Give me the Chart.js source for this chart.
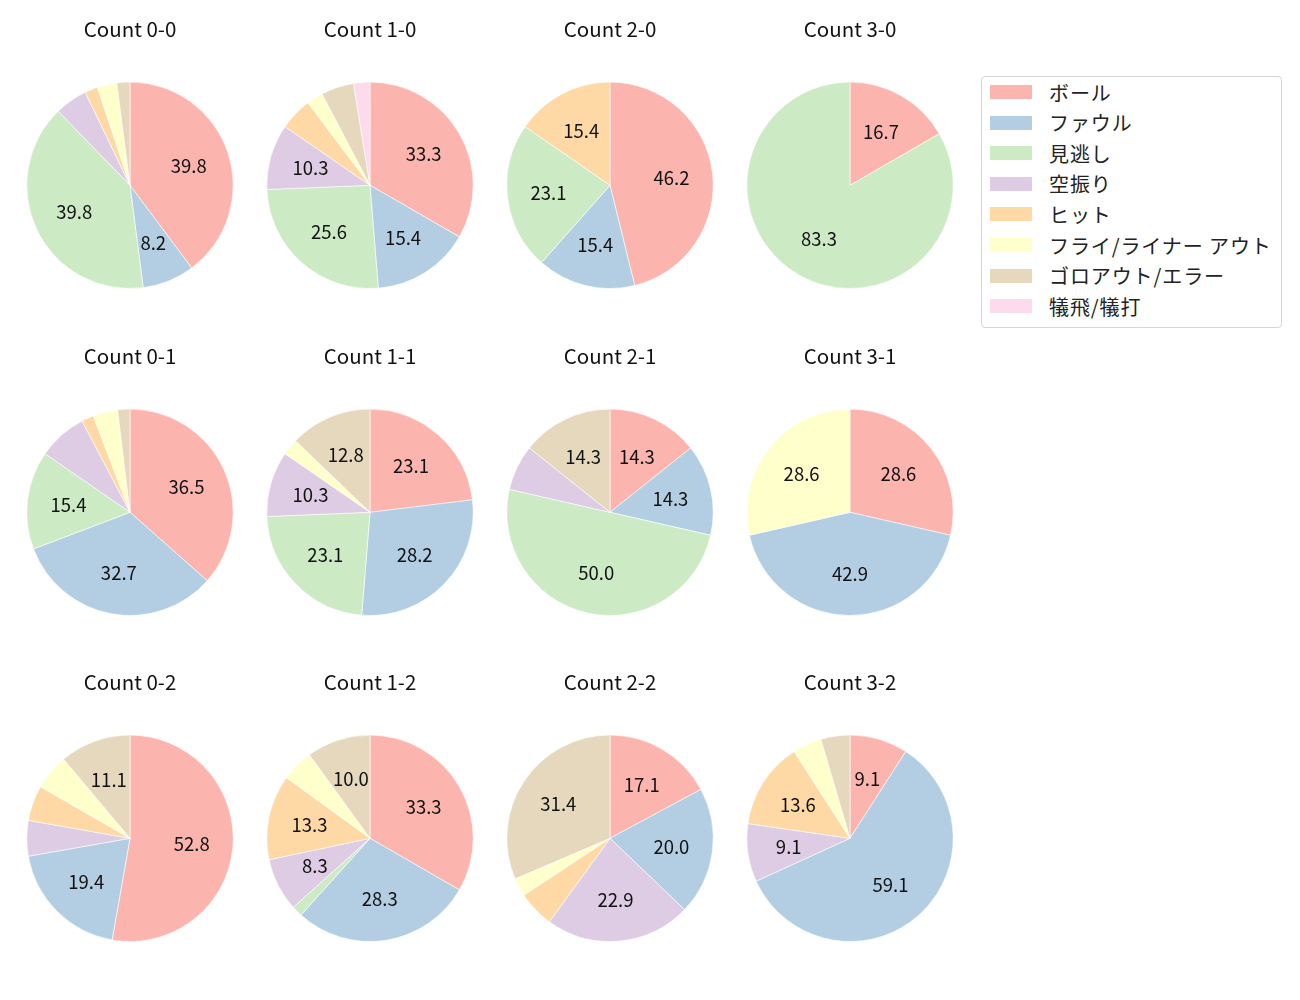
<!DOCTYPE html>
<html>
<head>
<meta charset="utf-8">
<script src="https://cdn.jsdelivr.net/npm/chart.js@4.4.0/dist/chart.umd.min.js"></script>
<style>
  body { margin: 0; background: #fff; }
  #stage { position: relative; width: 1300px; height: 1000px; }
  .cell { position: absolute; }
  #legend {
    position: absolute; left: 981px; top: 76px; width: 301px; height: 252px;
    border: 1px solid #d6d6d6; border-radius: 4px; box-sizing: border-box;
    font-family: "Noto Sans CJK JP", sans-serif; font-size: 20px; color: #222;
    letter-spacing: 0.9px;
  }
  .item { position: absolute; left: 8px; height: 20px; display: flex; align-items: center; }
  .swatch { width: 42px; height: 14px; margin-right: 17px; }
</style>
</head>
<body>
<div id="stage">
  <div id="legend"></div>
</div>
<script>
const categories = ['ボール', 'ファウル', '見逃し', '空振り', 'ヒット', 'フライ/ライナー アウト', 'ゴロアウト/エラー', '犠飛/犠打'];
const colors = ['#fbb4ae', '#b3cde3', '#ccebc5', '#decbe4', '#fed9a6', '#ffffcc', '#e5d8bd', '#fddaec'];

const titles = ['Count 0-0', 'Count 1-0', 'Count 2-0', 'Count 3-0',
                'Count 0-1', 'Count 1-1', 'Count 2-1', 'Count 3-1',
                'Count 0-2', 'Count 1-2', 'Count 2-2', 'Count 3-2'];

// pitch counts per category, same order as categories
const count00 = [39, 8, 39, 5, 2, 3, 2, 0];
const count10 = [13, 6, 10, 4, 2, 1, 2, 1];
const count20 = [6, 2, 3, 0, 2, 0, 0, 0];
const count30 = [1, 0, 5, 0, 0, 0, 0, 0];
const count01 = [19, 17, 8, 4, 1, 2, 1, 0];
const count11 = [9, 11, 9, 4, 0, 1, 5, 0];
const count21 = [2, 2, 7, 1, 0, 0, 2, 0];
const count31 = [2, 3, 0, 0, 0, 2, 0, 0];
const count02 = [19, 7, 0, 2, 2, 2, 4, 0];
const count12 = [20, 17, 1, 5, 8, 3, 6, 0];
const count22 = [6, 7, 0, 8, 2, 1, 11, 0];
const count32 = [2, 13, 0, 2, 3, 1, 1, 0];

const series = [count00, count10, count20, count30,
                count01, count11, count21, count31,
                count02, count12, count22, count32];

const colX = [129.5, 369.5, 609.5, 849.5];
const rowY = [185, 512, 838];
const R = 103;

// percentage labels inside the wedges
const pctLabels = {
  id: 'pctLabels',
  afterDatasetsDraw(chart) {
    const ctx = chart.ctx;
    const data = chart.data.datasets[0].data;
    const total = data.reduce((a, b) => a + b, 0);
    const meta = chart.getDatasetMeta(0);
    ctx.save();
    ctx.font = '18.5px "Noto Sans CJK JP", sans-serif';
    ctx.fillStyle = '#111';
    ctx.textAlign = 'center';
    ctx.textBaseline = 'middle';
    meta.data.forEach(function (arc, i) {
      const pct = data[i] / total * 100;
      if (pct < 8) return;
      const mid = (arc.startAngle + arc.endAngle) / 2;
      const r = arc.outerRadius * 0.6;
      ctx.fillText(pct.toFixed(1), arc.x + Math.cos(mid) * r, arc.y + Math.sin(mid) * r);
    });
    ctx.restore();
  }
};

const stage = document.getElementById('stage');
series.forEach(function (values, n) {
  const cx = colX[n % 4];
  const cy = rowY[Math.floor(n / 4)];
  const w = 240, h = 280;
  const cell = document.createElement('div');
  cell.className = 'cell';
  cell.style.left = (cx - w / 2) + 'px';
  cell.style.top = (cy - R - 73) + 'px';
  cell.style.width = w + 'px';
  cell.style.height = h + 'px';
  const canvas = document.createElement('canvas');
  canvas.width = w;
  canvas.height = h;
  cell.appendChild(canvas);
  stage.appendChild(cell);

  new Chart(canvas, {
    type: 'pie',
    data: {
      labels: categories,
      datasets: [{
        data: values,
        backgroundColor: colors,
        borderColor: '#ffffff',
        borderWidth: 0.6
      }]
    },
    options: {
      responsive: false,
      animation: false,
      layout: { padding: { left: 16.5, right: 16.5, top: 0, bottom: 0 } },
      plugins: {
        legend: { display: false },
        tooltip: { enabled: false },
        title: {
          display: true,
          text: titles[n],
          color: '#111',
          font: { family: '"Noto Sans CJK JP", sans-serif', size: 20.5, weight: 'normal' },
          padding: { top: 8, bottom: 40 }
        }
      }
    },
    plugins: [pctLabels]
  });
});

const legend = document.getElementById('legend');
categories.forEach(function (name, i) {
  const item = document.createElement('div');
  item.className = 'item';
  item.style.top = (5 + i * 30.6) + 'px';
  item.innerHTML = '<span class="swatch" style="background:' + colors[i] + '"></span><span>' + name + '</span>';
  legend.appendChild(item);
});
</script>
</body>
</html>
